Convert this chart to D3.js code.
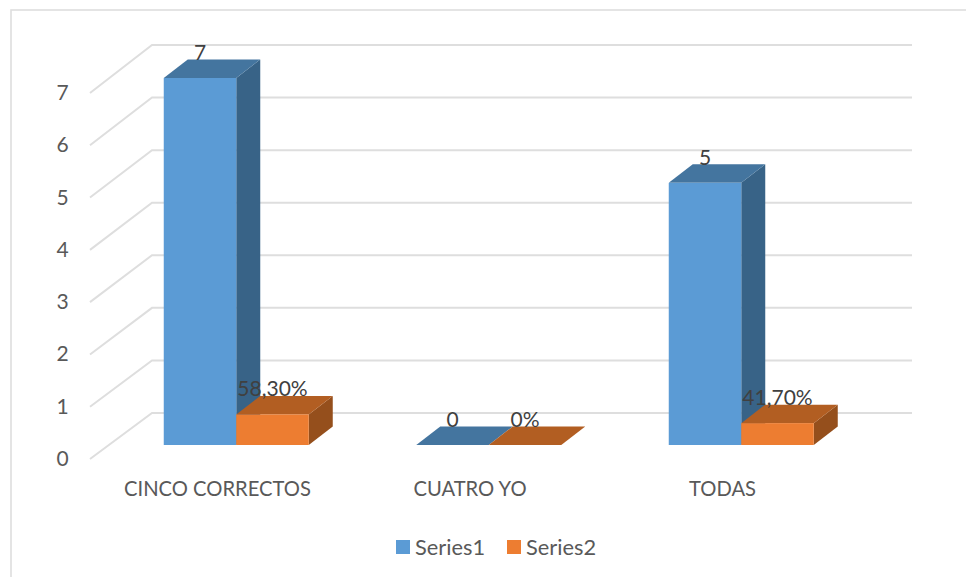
<!DOCTYPE html>
<html>
<head>
<meta charset="utf-8">
<script src="https://cdn.jsdelivr.net/npm/d3@7"></script>
<style>
  html, body { margin: 0; padding: 0; background: #fff; overflow: hidden; }
  svg { display: block; }
  text { font-family: Lato, "Open Sans", sans-serif; }
</style>
</head>
<body>
<svg id="chart" width="966" height="577"></svg>
<script>
const categories = ["CINCO CORRECTOS", "CUATRO YO", "TODAS"];
const seriesNames = ["Series1", "Series2"];
const series1 = [7, 0, 5];
const series2 = [0.583, 0, 0.417];
const series1Labels = ["7", "0", "5"];
const series2Labels = ["58,30%", "0%", "41,70%"];
const yTicks = [0, 1, 2, 3, 4, 5, 6, 7];

const palette = [
  { front: "#5b9bd5", top: "#44759f", side: "#386387" },
  { front: "#ed7d31", top: "#b25e22", side: "#954f1c" }
];
const gridColor = "#dedede";
const axisText = "#595959";
const labelText = "#404040";

const svg = d3.select("#chart");

// Three value scales: the near edge of the side wall, the back wall, and the bar fronts.
const yWallFront = d3.scaleLinear().domain([0, 7]).range([459, 93]);
const yWallBack = d3.scaleLinear().domain([0, 7]).range([413, 45]);
const yBar = d3.scaleLinear().domain([0, 7]).range([445, 78]);

const xBand = d3.scaleBand().domain(categories).range([110, 867.5]);
const barWidth = 72.5;
const depthX = 24, depthY = 18.5;

// Chart frame; its right and bottom edges run past the page
svg.append("rect")
  .attr("x", 11).attr("y", 10).attr("width", 1000).attr("height", 600)
  .attr("fill", "#fff").attr("stroke", gridColor).attr("stroke-width", 1.6);

// Side wall and back wall gridlines
const grid = svg.append("g").attr("fill", "none").attr("stroke", gridColor).attr("stroke-width", 2);
grid.selectAll("path").data(yTicks).join("path")
  .attr("d", t => d3.line()([[90, yWallFront(t)], [152, yWallBack(t)], [912, yWallBack(t)]]));

// Value axis labels
svg.append("g").selectAll("text").data(yTicks).join("text")
  .attr("x", 62.5).attr("y", t => yWallFront(t) + 7)
  .attr("text-anchor", "middle")
  .attr("font-size", 21).attr("fill", axisText)
  .text(d => d);

// Bars: the orange block is drawn after the blue one so it overlaps the blue side face
const bars = [];
categories.forEach((c, i) => {
  const centre = xBand(c) + xBand.bandwidth() / 2;
  bars.push({ left: centre - barWidth, value: series1[i], s: 0 });
  bars.push({ left: centre, value: series2[i], s: 1 });
});

const barGroups = svg.append("g").selectAll("g").data(bars).join("g");
barGroups.each(function (d) {
  const g = d3.select(this);
  const x0 = d.left, x1 = d.left + barWidth;
  const yT = yBar(d.value), yB = yBar(0);
  const c = palette[d.s];
  const poly = pts => d3.line()(pts) + "Z";
  g.append("path").attr("fill", c.side)
    .attr("d", poly([[x1, yT], [x1 + depthX, yT - depthY], [x1 + depthX, yB - depthY], [x1, yB]]));
  g.append("path").attr("fill", c.top)
    .attr("d", poly([[x0, yT], [x0 + depthX, yT - depthY], [x1 + depthX, yT - depthY], [x1, yT]]));
  g.append("rect").attr("x", x0).attr("y", yT)
    .attr("width", barWidth).attr("height", yB - yT).attr("fill", c.front);
});

// Value labels above each block
const labelData = [];
categories.forEach((c, i) => {
  const centre = xBand(c) + xBand.bandwidth() / 2;
  labelData.push({ x: centre - barWidth / 2, y: yBar(series1[i]), t: series1Labels[i] });
  labelData.push({ x: centre + barWidth / 2, y: yBar(series2[i]), t: series2Labels[i] });
});
svg.append("g").selectAll("text").data(labelData).join("text")
  .attr("x", d => d.x)
  .attr("y", d => d.y - 18)
  .attr("text-anchor", "middle")
  .attr("font-size", 21).attr("fill", labelText)
  .text(d => d.t);

// Category labels
const categoryX = [217.5, 470, 722.5];
svg.append("g").selectAll("text").data(categories).join("text")
  .attr("x", (d, i) => categoryX[i]).attr("y", 496)
  .attr("text-anchor", "middle")
  .attr("font-size", 20.2).attr("fill", axisText)
  .text(d => d);

// Legend
const legendX = [396, 507];
const legend = svg.append("g").selectAll("g").data(seriesNames).join("g");
legend.append("rect")
  .attr("x", (d, i) => legendX[i]).attr("y", 540)
  .attr("width", 14).attr("height", 14)
  .attr("fill", (d, i) => palette[i].front);
legend.append("text")
  .attr("x", (d, i) => legendX[i] + 19).attr("y", 555)
  .attr("font-size", 21.8).attr("fill", axisText)
  .text(d => d);
</script>
</body>
</html>
